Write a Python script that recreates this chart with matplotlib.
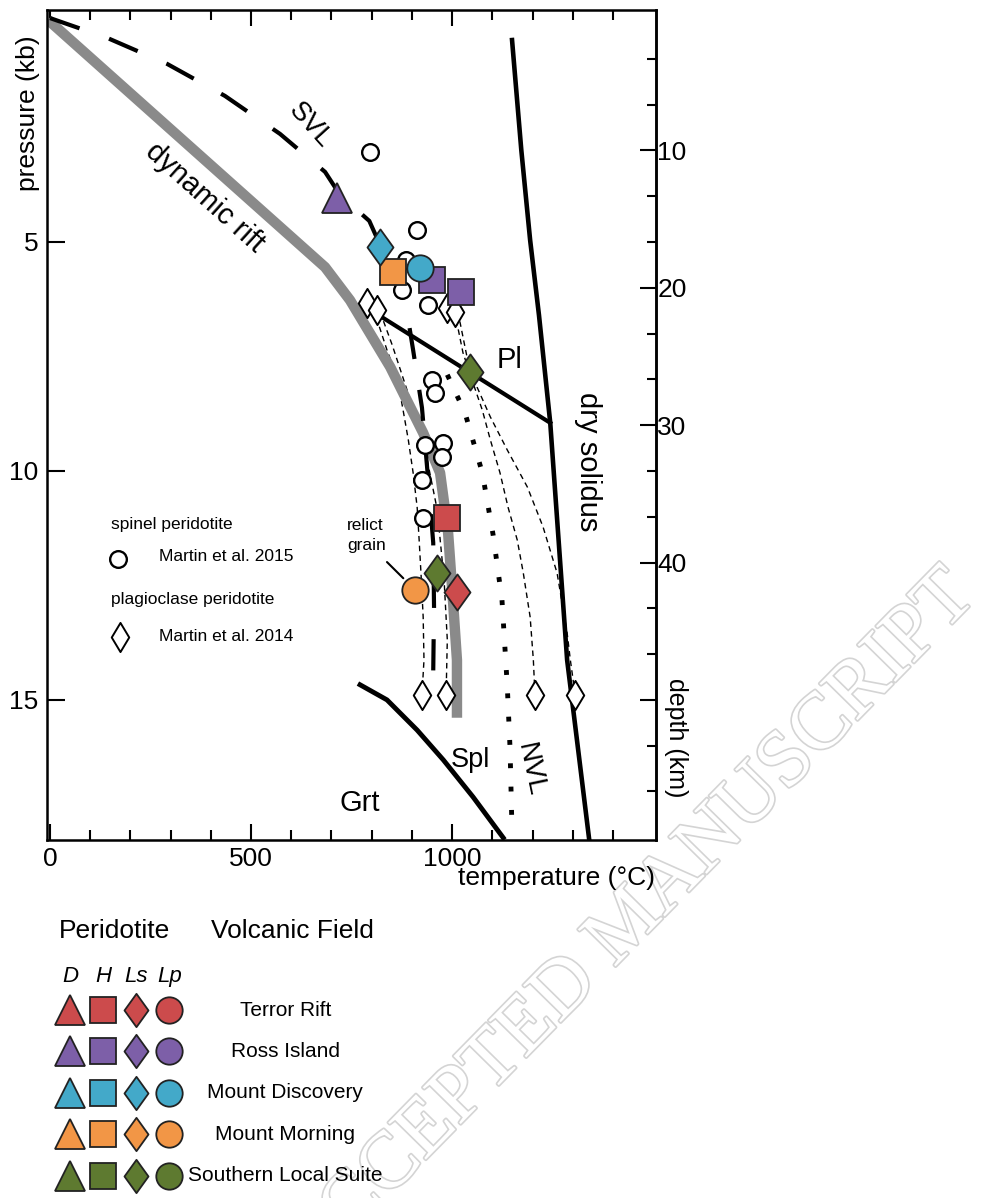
import matplotlib
matplotlib.use('Agg')
import matplotlib.pyplot as plt
import matplotlib.patheffects as pe
from matplotlib.path import Path
from matplotlib import font_manager
from matplotlib.ticker import FixedLocator, FixedFormatter

# ---- data (temperature in C, pressure in kb) ----
rift_T = [-5, 684, 746, 846, 928, 970, 990, 1002, 1012, 1012]
rift_P = [0.15, 5.55, 6.27, 7.73, 9.17, 10.04, 11.35, 12.82, 14.13, 15.39]

svl_T = [0, 144, 291, 435, 572, 684, 721, 794, 821, 858, 883, 903, 925, 940, 953, 955, 953]
svl_P = [0.11, 0.55, 1.11, 1.81, 2.64, 3.47, 3.97, 4.54, 5.07, 5.61, 6.27, 7.36, 8.62, 10.15, 11.57, 12.97, 14.39]

pl_T = [816, 1244]
pl_P = [6.59, 8.95]

solidus_T = [1149, 1172, 1194, 1216, 1244, 1286, 1341]
solidus_P = [0.59, 2.99, 4.96, 6.60, 8.95, 14.13, 18.06]

grt_T = [771, 838, 913, 978, 1052, 1127]
grt_P = [14.67, 15.0, 15.66, 16.31, 17.12, 18.01]

nvl_T = [988, 1032, 1075, 1102, 1124, 1137, 1144, 1149]
nvl_P = [7.90, 8.73, 10.04, 11.40, 12.82, 14.67, 16.05, 17.88]

# thin dashed paths of plagioclase peridotites
path_a_T = [796, 816, 838, 863, 878, 891, 903, 913, 918, 923, 928, 930, 925]
path_a_P = [6.48, 6.77, 7.36, 7.95, 8.67, 9.32, 10.04, 10.79, 11.51, 12.31, 13.19, 14.13, 14.89]
path_b_T = [821, 851, 896, 933, 963, 980, 988, 985]
path_b_P = [6.53, 7.25, 8.45, 9.54, 10.85, 12.38, 13.69, 14.89]
path_c_T = [995, 1012, 1027, 1052, 1075, 1095, 1119, 1139, 1162, 1177, 1194, 1202, 1206]
path_c_P = [6.53, 6.77, 7.42, 8.08, 8.67, 9.32, 10.04, 10.79, 11.51, 12.23, 13.19, 14.13, 14.89]
path_d_T = [1012, 1020, 1037, 1062, 1095, 1137, 1187, 1226, 1261, 1286, 1294, 1306]
path_d_P = [6.53, 6.77, 7.51, 8.17, 8.82, 9.54, 10.35, 11.22, 12.23, 13.54, 14.13, 14.89]

# spinel peridotite, Martin et al. 2015
spinel_T = [796, 913, 885, 875, 940, 950, 958, 933, 978, 975, 925, 928]
spinel_P = [3.03, 4.74, 5.39, 6.05, 6.38, 8.01, 8.30, 9.43, 9.39, 9.69, 10.2, 11.03]

# plagioclase peridotite, Martin et al. 2014
plag_T = [788, 813, 988, 1007, 925, 985, 1206, 1306]
plag_P = [6.33, 6.48, 6.44, 6.53, 14.89, 14.89, 14.89, 14.89]

# samples of this study
sample_T = [714, 853, 950, 1022, 988, 821, 1045, 963, 1012, 920, 908]
sample_P = [4.04, 5.65, 5.83, 6.09, 11.03, 5.11, 7.84, 12.23, 12.64, 5.57, 12.60]
sample_type = ['D', 'H', 'H', 'H', 'H', 'Ls', 'Ls', 'Ls', 'Ls', 'Lp', 'Lp']
sample_field = ['Ross Island', 'Mount Morning', 'Ross Island', 'Ross Island', 'Terror Rift',
                'Mount Discovery', 'Southern Local Suite', 'Southern Local Suite', 'Terror Rift',
                'Mount Discovery', 'Mount Morning']

fields = ['Terror Rift', 'Ross Island', 'Mount Discovery', 'Mount Morning', 'Southern Local Suite']
field_colors = ['#cc4b4c', '#7d5fa8', '#43a9c9', '#f29646', '#5e7a30']
types = ['D', 'H', 'Ls', 'Lp']

# ---- fonts ----
installed = {f.name for f in font_manager.fontManager.ttflist}
SANS = 'Liberation Sans' if 'Liberation Sans' in installed else 'DejaVu Sans'
if 'Liberation Sans Narrow' in installed:
    NARROW, small = 'Liberation Sans Narrow', 15
else:
    NARROW, small = SANS, 12.5
SERIF = 'Liberation Serif' if 'Liberation Serif' in installed else 'DejaVu Serif'
plt.rcParams['font.family'] = SANS

# tall diamond markers
diamond = Path([(0, 1), (0.72, 0), (0, -1), (-0.72, 0), (0, 1)],
               [Path.MOVETO, Path.LINETO, Path.LINETO, Path.LINETO, Path.CLOSEPOLY])
plag_diamond = Path([(0, 1), (0.6, 0), (0, -1), (-0.6, 0), (0, 1)],
                    [Path.MOVETO, Path.LINETO, Path.LINETO, Path.LINETO, Path.CLOSEPOLY])
shape = {'D': '^', 'H': 's', 'Ls': diamond, 'Lp': 'o'}
msize = {'D': 21, 'H': 19, 'Ls': 26, 'Lp': 19}
edge = '#222222'

fig = plt.figure(figsize=(9.86, 11.98), dpi=100)
fig.text(0.638, 0.228, 'ACCEPTED MANUSCRIPT', rotation=45.5, fontsize=58, family=SERIF,
         color='white', ha='center', va='center', zorder=-1,
         path_effects=[pe.withStroke(linewidth=2.4, foreground='#d4d4d4')])

ax = fig.add_axes([47/986, 1-840/1198, 609/986, 830/1198])
ax.patch.set_visible(False)
ax.set_xlim(-7.5, 1507)
ax.set_ylim(18.06, -0.066)

# lines
for t, p in [(path_a_T, path_a_P), (path_b_T, path_b_P), (path_c_T, path_c_P), (path_d_T, path_d_P)]:
    ax.plot(t, p, color='k', lw=1.0, ls=(0, (4, 3)), zorder=1)
ax.plot(rift_T, rift_P, color='#8a8a8a', lw=7.5, solid_capstyle='butt', zorder=2)
ax.plot(svl_T, svl_P, color='k', lw=3, ls=(0, (7.5, 7.5)), zorder=3)
ax.plot(pl_T, pl_P, color='k', lw=3, zorder=3)
ax.plot(solidus_T, solidus_P, color='k', lw=3.3, zorder=3)
ax.plot(grt_T, grt_P, color='k', lw=3.5, zorder=3)
ax.plot(nvl_T, nvl_P, color='k', lw=3.5, ls=(0, (1, 3.8)), zorder=3)

# literature samples
ax.plot(plag_T, plag_P, ls='none', marker=plag_diamond, ms=21, mfc='white', mec='k', mew=1.4, zorder=4)
ax.plot(spinel_T, spinel_P, ls='none', marker='o', ms=12, mfc='white', mec='k', mew=1.7, zorder=4)

# samples of this study
for t, p, ty, fl in zip(sample_T, sample_P, sample_type, sample_field):
    ax.plot(t, p, ls='none', marker=shape[ty], ms=msize[ty], mfc=field_colors[fields.index(fl)],
            mec=edge, mew=1.3, zorder=5)

# relict grain note
i_relict = 10
ax.annotate('', xy=(sample_T[i_relict], sample_P[i_relict]), xytext=(838, 11.99),
            arrowprops=dict(arrowstyle='-', lw=1.5, color='k', shrinkA=0, shrinkB=12), zorder=4)
ax.text(739, 11.41, 'relict\ngrain', family=NARROW, fontsize=small, ha='left', va='center',
        linespacing=1.35)

# field labels
ax.text(647, 2.45, 'SVL', fontsize=19.5, rotation=-48, ha='center', va='center')
ax.text(386, 4.02, 'dynamic rift', fontsize=21, rotation=-42, ha='center', va='center')
ax.text(1144, 7.58, 'Pl', fontsize=21, ha='center', va='center')
ax.text(1338, 9.80, 'dry solidus', fontsize=21, rotation=-90, ha='center', va='center')
ax.text(1045, 16.31, 'Spl', fontsize=19.5, ha='center', va='center')
ax.text(1194, 16.53, 'NVL', fontsize=20, rotation=-78, ha='center', va='center')
ax.text(771, 17.25, 'Grt', fontsize=21, ha='center', va='center')

# literature legend inside the plot
ax.text(0.105, 0.380, 'spinel peridotite', transform=ax.transAxes, family=NARROW,
        fontsize=small, ha='left', va='center')
ax.plot([0.1166], [0.3386], transform=ax.transAxes, ls='none', marker='o', ms=12,
        mfc='white', mec='k', mew=1.7)
ax.text(0.184, 0.341, 'Martin et al. 2015', transform=ax.transAxes, family=NARROW,
        fontsize=small, ha='left', va='center')
ax.text(0.105, 0.290, 'plagioclase peridotite', transform=ax.transAxes, family=NARROW,
        fontsize=small, ha='left', va='center')
ax.plot([0.12], [0.2446], transform=ax.transAxes, ls='none', marker=plag_diamond, ms=21,
        mfc='white', mec='k', mew=1.4)
ax.text(0.184, 0.2446, 'Martin et al. 2014', transform=ax.transAxes, family=NARROW,
        fontsize=small, ha='left', va='center')

# axes, ticks
for s in ax.spines.values():
    s.set_linewidth(1.8)
ax.xaxis.set_major_locator(FixedLocator([0, 500, 1000]))
ax.xaxis.set_minor_locator(FixedLocator(list(range(100, 1500, 100))))
ax.tick_params(axis='x', which='both', direction='in', top=True, bottom=True,
               labelsize=19, pad=5, width=1.5)
ax.tick_params(axis='x', which='major', length=11.5)
ax.tick_params(axis='x', which='minor', length=7)
ax.yaxis.set_major_locator(FixedLocator([5, 10, 15]))
ax.tick_params(axis='y', which='major', direction='in', left=True, right=False,
               length=13, width=1.5, labelsize=19, pad=6)

sec = ax.secondary_yaxis('right', functions=(lambda p: p * 10 / 3, lambda d: d * 0.3))
sec.yaxis.set_major_locator(FixedLocator([10, 20, 30, 40, 50]))
sec.yaxis.set_major_formatter(FixedFormatter(['10', '20', '30', '40', '']))
sec.yaxis.set_minor_locator(FixedLocator([10 / 3 * k for k in range(1, 18) if k % 3]))
sec.tick_params(which='both', direction='in', width=1.5, labelsize=19, pad=1)
sec.tick_params(which='major', length=11.5)
sec.tick_params(which='minor', length=6.5)
sec.spines['right'].set_linewidth(1.8)

ax.text(-0.031, 0.876, 'pressure (kb)', transform=ax.transAxes, rotation=90,
        fontsize=19, ha='center', va='center')
ax.text(0.837, -0.046, 'temperature (°C)', transform=ax.transAxes,
        fontsize=19, ha='center', va='center')
ax.text(1.033, 0.123, 'depth (km)', transform=ax.transAxes, rotation=-90,
        fontsize=18, ha='center', va='center')

# ---- symbol legend below the plot (columns = peridotite type, rows = volcanic field) ----
lg = fig.add_axes([0, 0, 1, 318/1198])
lg.set_xlim(-2.115, 27.67)
lg.set_ylim(4.54, -3.14)
lg.axis('off')
for r, (fl, col) in enumerate(zip(fields, field_colors)):
    for c, ty in enumerate(types):
        lg.plot(c, r, ls='none', marker=shape[ty], ms=msize[ty] - (2 if ty == 'Ls' else 0),
                mfc=col, mec=edge, mew=1.3)
    lg.text(6.5, r, fl, fontsize=15, ha='center', va='center')
for c, ty in enumerate(types):
    lg.text(c, -0.8, ty, fontsize=16, style='italic', family=NARROW, ha='center', va='center')
lg.text(1.35, -1.9, 'Peridotite', fontsize=19, ha='center', va='center')
lg.text(6.72, -1.9, 'Volcanic Field', fontsize=19, ha='center', va='center')

fig.savefig('out.png', dpi=100)
